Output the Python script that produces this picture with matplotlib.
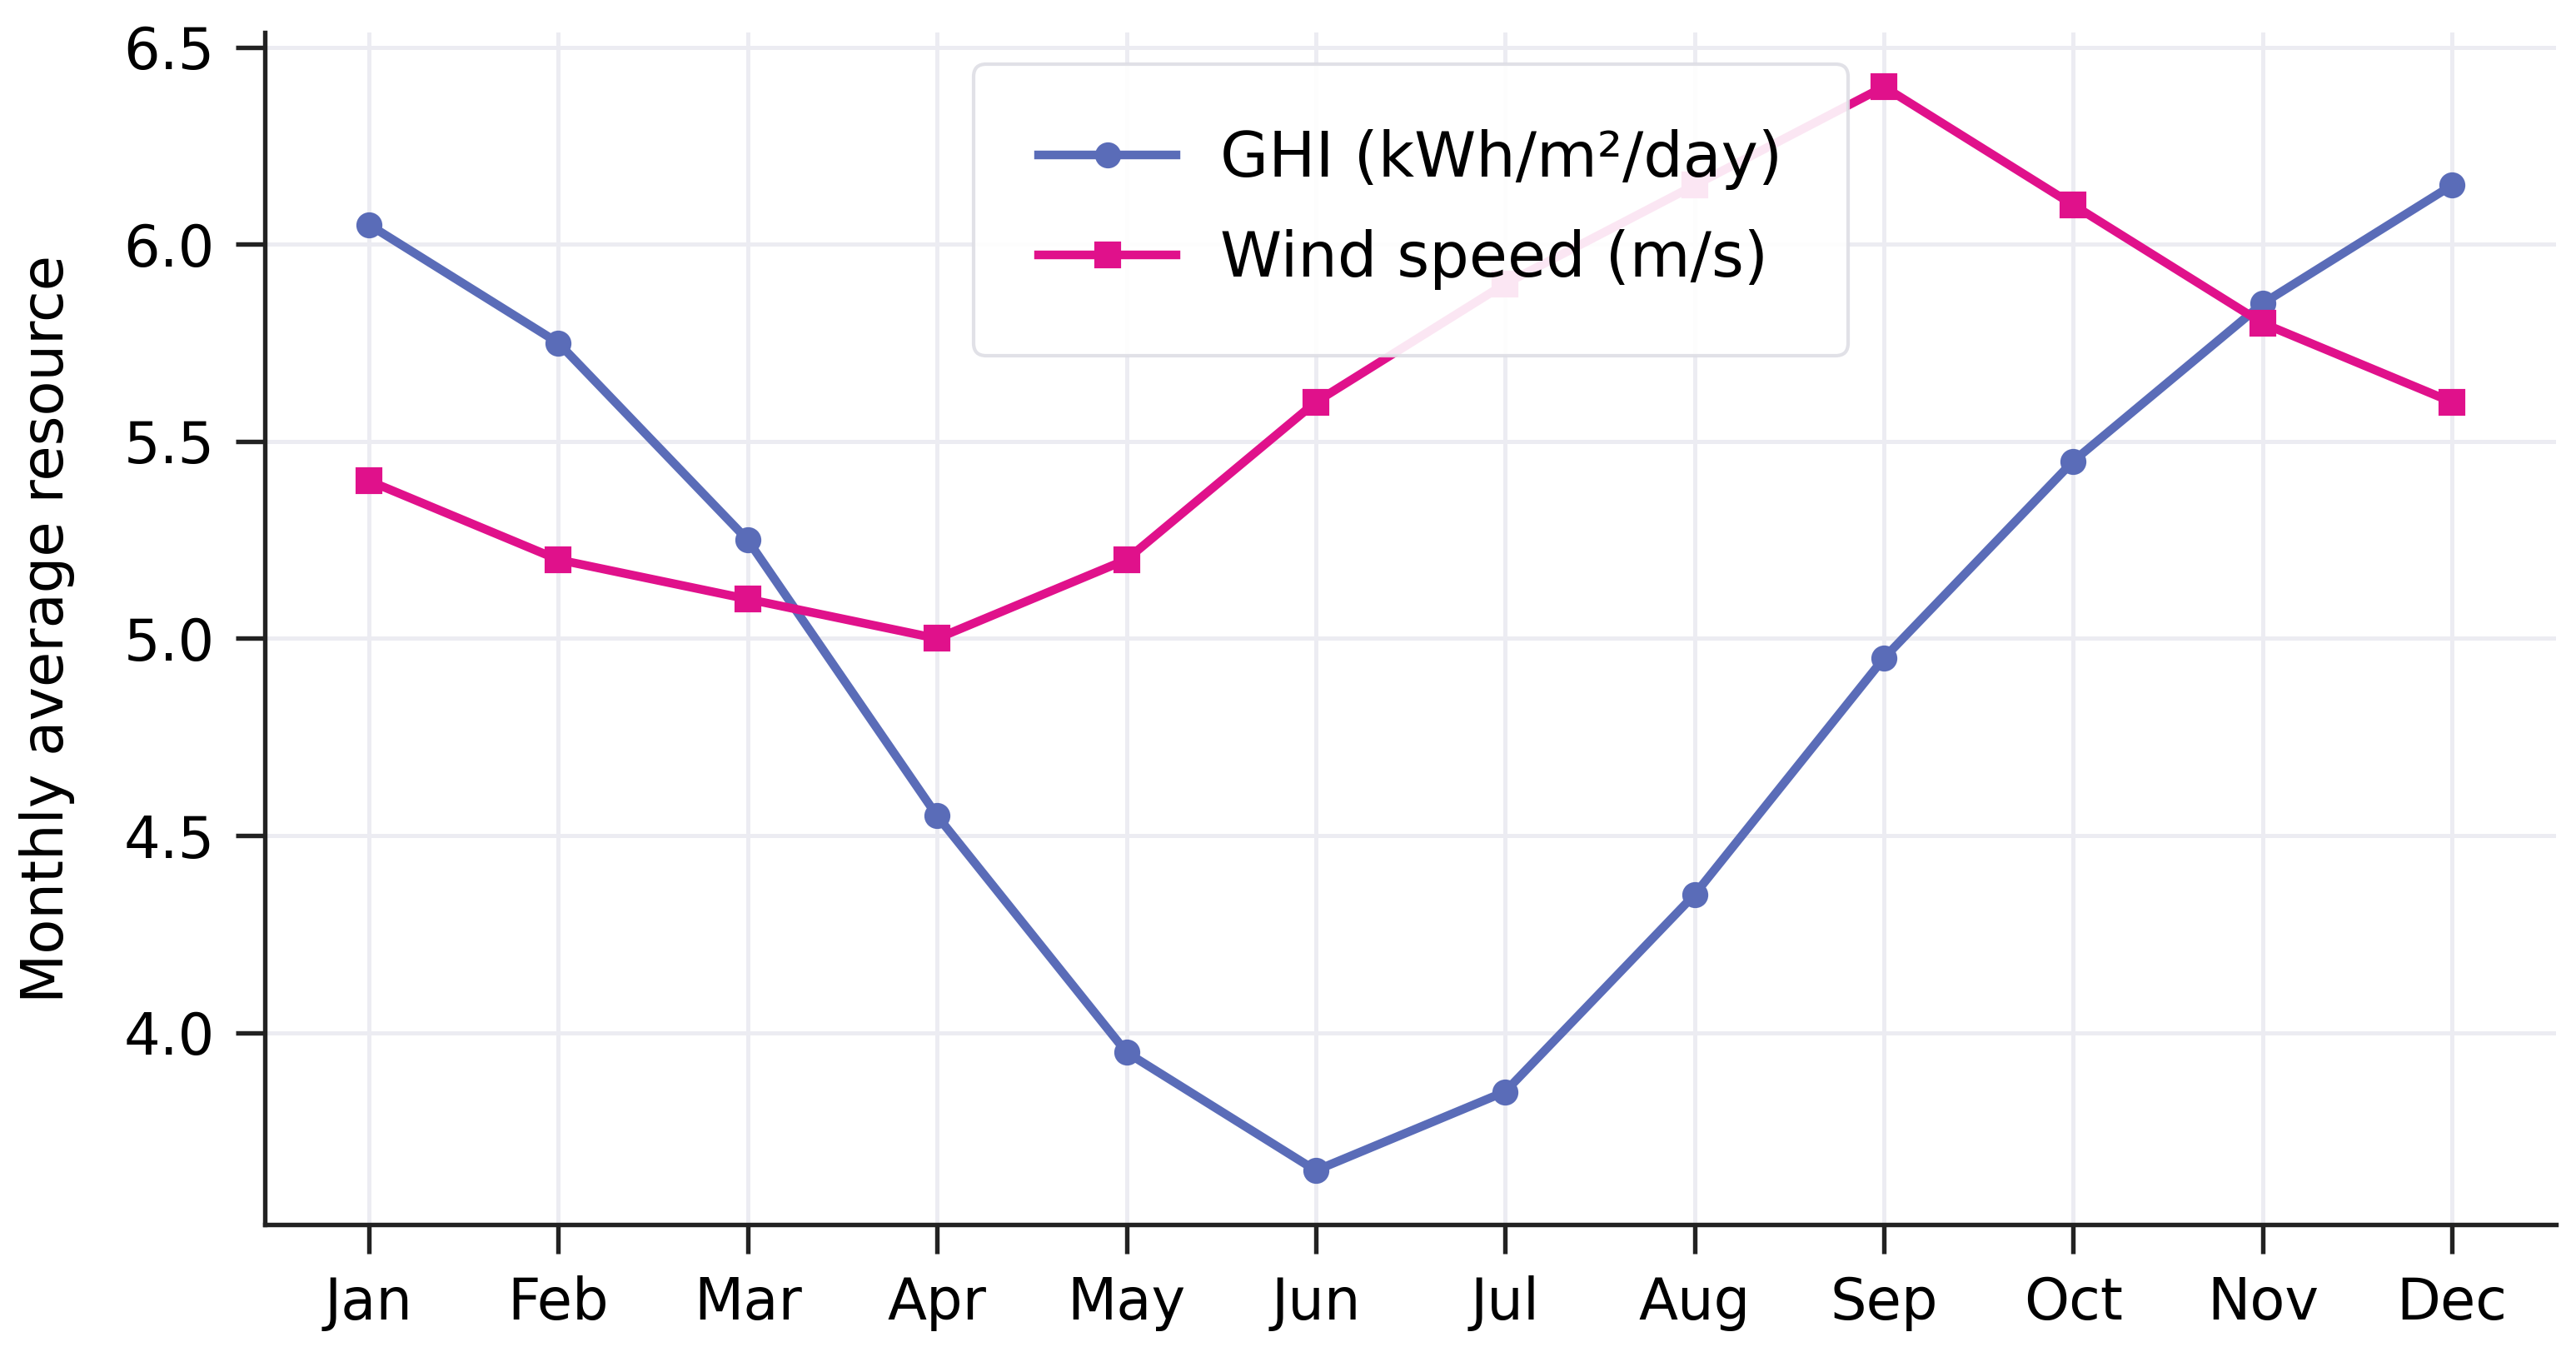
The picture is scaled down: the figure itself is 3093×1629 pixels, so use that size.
import matplotlib
matplotlib.use("Agg")
import matplotlib.pyplot as plt

# Data
months = ["Jan", "Feb", "Mar", "Apr", "May", "Jun",
          "Jul", "Aug", "Sep", "Oct", "Nov", "Dec"]
ghi = [6.05, 5.75, 5.25, 4.55, 3.95, 3.65, 3.85, 4.35, 4.95, 5.45, 5.85, 6.15]
wind = [5.40, 5.20, 5.10, 5.00, 5.20, 5.60, 5.90, 6.15, 6.40, 6.10, 5.80, 5.60]
yticks = [4.0, 4.5, 5.0, 5.5, 6.0, 6.5]

ghi_color = "#5a6cb8"
wind_color = "#e0118b"

plt.rcParams["font.family"] = "DejaVu Sans"

fig = plt.figure(figsize=(10.31, 5.43), dpi=300)
ax = fig.add_axes([0.1028, 0.0975, 0.8895, 0.8785])

x = list(range(len(months)))
ax.plot(x, ghi, color=ghi_color, marker="o", markersize=6.5, linewidth=2.5,
        label="GHI (kWh/m²/day)", zorder=3)
ax.plot(x, wind, color=wind_color, marker="s", markersize=6.5, linewidth=2.5,
        label="Wind speed (m/s)", zorder=3)

ax.set_xticks(x)
ax.set_xticklabels(months)
ax.set_yticks(yticks)
ax.set_ylabel("Monthly average resource", fontsize=16.5, labelpad=14)

ax.tick_params(axis="both", labelsize=16.5, length=8.5, width=1.3, pad=6,
               color="#222222")
ax.grid(True, color="#ececf2", linewidth=1.2, zorder=0)
ax.set_axisbelow(True)

for side in ["top", "right"]:
    ax.spines[side].set_visible(False)
for side in ["left", "bottom"]:
    ax.spines[side].set_linewidth(1.3)
    ax.spines[side].set_color("#222222")

leg = ax.legend(loc="upper center", fontsize=18, borderpad=1.05,
                handlelength=2.2, handletextpad=0.7, labelspacing=0.62,
                framealpha=0.9, edgecolor="#dedee5", fancybox=True)
leg.get_frame().set_linewidth(1.0)

fig.savefig("out.png", dpi=300)
